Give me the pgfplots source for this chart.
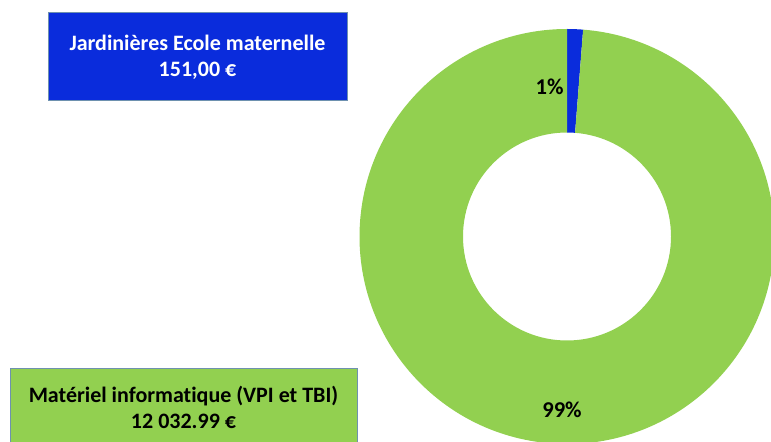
\documentclass[border=0pt]{standalone}
\usepackage{pgfplots}
\pgfplotsset{compat=1.18}
\usepackage{pgfplotstable}
\usetikzlibrary{calc}
\usepackage{fontspec}
\setmainfont{Carlito}[Ligatures=NoCommon]

\definecolor{sliceblue}{RGB}{10,44,220}
\definecolor{slicegreen}{RGB}{146,208,80}
\definecolor{boxline}{RGB}{110,145,175}

% montants en euros
\pgfplotstableread{
label value
Jardinieres 151.00
Materiel 12032.99
}\budget

\pgfplotstablegetelem{0}{value}\of\budget \let\va\pgfplotsretval
\pgfplotstablegetelem{1}{value}\of\budget \let\vb\pgfplotsretval
\pgfmathsetmacro\frac{\va/(\va+\vb)}
\pgfmathsetmacro\angA{360*\frac}
\pgfmathsetmacro\endA{90-\angA}

\begin{document}
\begin{tikzpicture}
\begin{axis}[
  scale only axis,
  width=385.5pt, height=220.5pt,
  xmin=0, xmax=771, ymin=0, ymax=441,
  hide axis,
  clip=true,
]
  \coordinate (C) at (axis cs:567,204.5);
  % anneau : tranche bleue puis tranche verte (sens horaire depuis midi)
  \fill[sliceblue] ($(C)+(90:103.75pt)$) arc[start angle=90, end angle=\endA, radius=103.75pt]
    -- ($(C)+(\endA:52pt)$) arc[start angle=\endA, end angle=90, radius=52pt] -- cycle;
  \fill[slicegreen] ($(C)+(\endA:103.75pt)$) arc[start angle=\endA, end angle=-270, radius=103.75pt]
    -- ($(C)+(-270:52pt)$) arc[start angle=-270, end angle=\endA, radius=52pt] -- cycle;

  \node[font=\bfseries\fontsize{11.3}{13}\selectfont, anchor=east, inner sep=0pt] at (axis cs:564,354) {1\%};
  \node[font=\bfseries\fontsize{11.3}{13}\selectfont] at (axis cs:562,31) {99\%};

  % cartouches
  \filldraw[fill=sliceblue, draw=boxline, line width=0.5pt] (axis cs:48,428) rectangle (axis cs:347,340);
  \node[font=\bfseries\fontsize{11}{13}\selectfont, text=white, align=center] at (axis cs:197.5,383.5)
    {Jardinières Ecole maternelle\\151,00 €};
  \filldraw[fill=slicegreen, draw=boxline, line width=0.5pt] (axis cs:10,73) rectangle (axis cs:357,-10);
  \node[font=\bfseries\fontsize{11}{13}\selectfont, align=center] at (axis cs:183.5,33.5)
    {Matériel informatique (VPI et TBI)\\12 032.99 €};
\end{axis}
\pgfresetboundingbox
\path[use as bounding box] (current axis.south west) rectangle (current axis.north east);
\end{tikzpicture}
\end{document}
